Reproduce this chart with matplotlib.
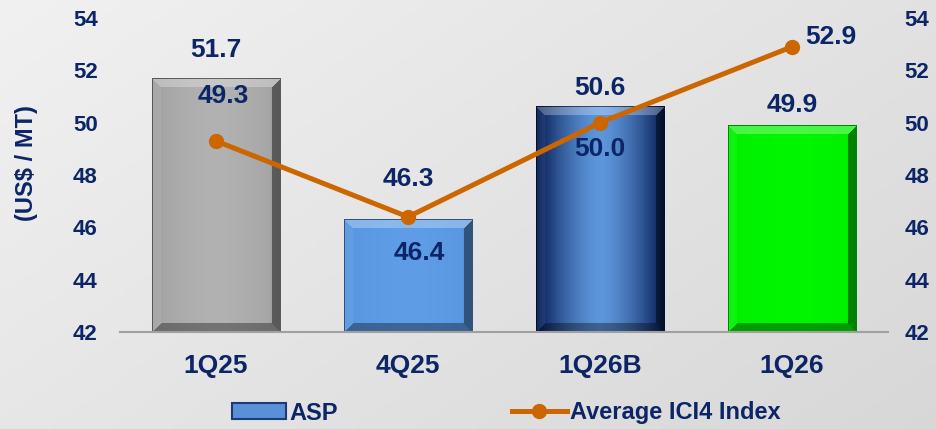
import numpy as np
import matplotlib
matplotlib.use("Agg")
import matplotlib.pyplot as plt
from matplotlib.colors import to_rgb
from matplotlib.patches import Patch
from matplotlib.lines import Line2D

# ---- data ----
categories = ["1Q25", "4Q25", "1Q26B", "1Q26"]
asp = [51.7, 46.3, 50.6, 49.9]
ici4 = [49.3, 46.4, 50.0, 52.9]
y_ticks = [42, 44, 46, 48, 50, 52, 54]

# ---- styling ----
NAVY = "#0b2566"
ORANGE = "#cc6600"
DPI = 100
W_PX, H_PX = 936, 429
AX_L, AX_R, AX_B, AX_T = 120, 888, 332, 18  # pixel box of the plot area
YMIN, YMAX = 42, 54
BAR_W = 0.667

bar_styles = [
    dict(edge="#a2a2a2", center="#b2b2b2"),
    dict(edge="#5896e0", center="#5f9ee6"),
    dict(edge="#041a52", center="#5e96dc"),
    dict(edge="#00f000", center="#00f600"),
]

# offsets (pixels) of the value labels from their marks
bar_label_off = [(0, 28), (0, 40), (0, 19), (0, 20)]
line_label_off = [(7, 45), (11, -36), (0, -26), (39, 10)]

plt.rcParams["font.family"] = ["Liberation Sans", "DejaVu Sans"]
plt.rcParams["font.weight"] = "bold"

fig = plt.figure(figsize=(W_PX / DPI, H_PX / DPI), dpi=DPI)

# light grey backdrop with a soft diagonal gradient
bg = fig.add_axes([0, 0, 1, 1], zorder=-10)
gx, gy = np.meshgrid(np.linspace(0, 1, 200), np.linspace(0, 1, 100))
g = 0.945 - 0.10 * (0.6 * gx + 0.4 * gy)
bg.imshow(np.dstack([g, g, g]), aspect="auto", extent=[0, 1, 0, 1], origin="upper")
bg.set_axis_off()

ax = fig.add_axes([AX_L / W_PX, 1 - AX_B / H_PX,
                   (AX_R - AX_L) / W_PX, (AX_B - AX_T) / H_PX])
ax.set_facecolor("none")
x = np.arange(len(categories))

px_per_unit = (AX_B - AX_T) / (YMAX - YMIN)
px_per_cat = (AX_R - AX_L) / len(categories)


def bevel_image(value, style):
    """Pixel image of a bevelled bar: lit top/left, shaded right/bottom."""
    w = int(round(BAR_W * px_per_cat))
    h = max(int(round((value - YMIN) * px_per_unit)), 2)
    xs = np.linspace(0, 1, w)
    edge = np.array(to_rgb(style["edge"]))
    center = np.array(to_rgb(style["center"]))
    t = np.abs(xs - 0.5) * 2
    mix = t[:, None] ** 1.5
    row = center[None, :] * (1 - mix) + edge[None, :] * mix
    img = np.repeat(row[None, :, :], h, axis=0)
    yy, xx = np.mgrid[0:h, 0:w]
    dl, dr, dt, db = xx, w - 1 - xx, yy, h - 1 - yy
    dmin = np.minimum(np.minimum(dl, dr), np.minimum(dt, db))
    bev = 9
    inside = dmin < bev
    which = np.argmin(np.stack([dt, dl, dr, db]), axis=0)
    shade = np.zeros((h, w))
    shade[(which == 0) & inside] = 0.28
    shade[(which == 1) & inside] = 0.06
    shade[(which == 2) & inside] = -0.45
    shade[(which == 3) & inside] = -0.35
    out = img.copy()
    pos = shade > 0
    out[pos] = img[pos] + (1 - img[pos]) * shade[pos][:, None]
    neg = shade < 0
    out[neg] = img[neg] * (1 + shade[neg][:, None])
    rim = dmin < 1
    out[rim] = img[rim] * 0.55
    return np.clip(out, 0, 1)


for xi, v, st in zip(x, asp, bar_styles):
    ax.bar(xi, v - YMIN, bottom=YMIN, width=BAR_W, color="none", zorder=2)
    ax.imshow(bevel_image(v, st), extent=[xi - BAR_W / 2, xi + BAR_W / 2, YMIN, v],
              aspect="auto", origin="upper", zorder=2, interpolation="bilinear")

ax.set_xlim(-0.5, len(categories) - 0.5)
ax.set_ylim(YMIN, YMAX)

ax.plot(x, ici4, color=ORANGE, lw=3.6, marker="o", ms=10, zorder=4,
        solid_capstyle="round")

LABEL_SIZE = 19
for xi, v, off in zip(x, asp, bar_label_off):
    ax.annotate(f"{v:.1f}", (xi, v), xytext=(off[0] * 0.72, off[1] * 0.72),
                textcoords="offset points", ha="center", va="center",
                fontsize=LABEL_SIZE, fontweight="bold", color=NAVY, zorder=5)
for xi, v, off in zip(x, ici4, line_label_off):
    ax.annotate(f"{v:.1f}", (xi, v), xytext=(off[0] * 0.72, off[1] * 0.72),
                textcoords="offset points", ha="center", va="center",
                fontsize=LABEL_SIZE, fontweight="bold", color=NAVY, zorder=5)

for s in ["top", "right", "left"]:
    ax.spines[s].set_visible(False)
ax.spines["bottom"].set_color("#a0a0a0")
ax.spines["bottom"].set_linewidth(1.5)
ax.spines["bottom"].set_zorder(3)

ax.set_xticks(x)
ax.set_xticklabels(categories, fontsize=19, fontweight="bold", color=NAVY)
ax.tick_params(axis="x", length=0, pad=16)
ax.set_yticks(y_ticks)
ax.set_yticklabels([str(t) for t in y_ticks], fontsize=16, fontweight="bold", color=NAVY)
ax.tick_params(axis="y", length=0, pad=16)

ax2 = ax.twinx()
ax2.set_ylim(YMIN, YMAX)
ax2.set_yticks(y_ticks)
ax2.set_yticklabels([str(t) for t in y_ticks], fontsize=16, fontweight="bold", color=NAVY)
ax2.tick_params(axis="y", length=0, pad=12)
for s in ax2.spines.values():
    s.set_visible(False)

fig.text(26 / W_PX, 1 - 163 / H_PX, "(US$ / MT)", rotation=90, ha="center", va="center",
         fontsize=17, fontweight="bold", color=NAVY)

handles = [Patch(facecolor="#5a90d8", edgecolor="#1c3a78", linewidth=1.5),
           Line2D([0], [0], color=ORANGE, lw=3.6, marker="o", ms=10)]
fig.legend(handles, ["ASP", "Average ICI4 Index"], loc="center",
           bbox_to_anchor=(506 / W_PX, 1 - 413 / H_PX), ncol=2, frameon=False,
           handlelength=2.3, handleheight=0.65, handletextpad=0.13, columnspacing=7.4,
           borderpad=0.2, prop=dict(size=17, weight="bold"), labelcolor=NAVY)

fig.savefig("out.png", dpi=DPI)
